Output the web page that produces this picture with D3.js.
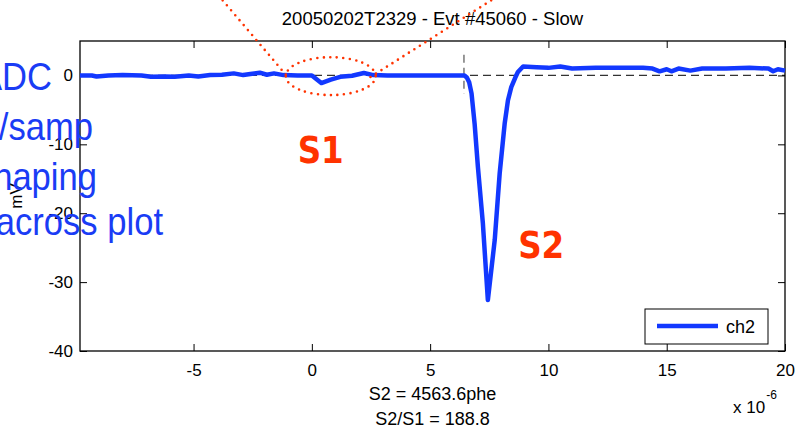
<!DOCTYPE html>
<html>
<head>
<meta charset="utf-8">
<script src="https://cdn.jsdelivr.net/npm/d3@7"></script>
<style>
  body { margin: 0; background: #fff; }
  svg { display: block; font-family: 'Liberation Sans', Arial, sans-serif; }
</style>
</head>
<body>
<svg id="chart" width="796" height="429"></svg>
<script>
// time in units of 1e-6 s, amplitude in mV
const timeUs = [
  -9.8, -9.3, -9.1, -8.6, -8.0, -7.2, -6.8, -6.2, -5.8, -5.2, -4.8, -4.3, -3.8, -3.3,
  -2.9, -2.6, -2.2, -1.9, -1.6, -1.2, -0.6, 0.0, 0.4, 0.8, 1.2, 1.7, 2.2, 2.6, 3.2,
  4.0, 5.0, 6.0, 6.45, 6.55, 6.65, 6.75, 6.88, 7.02, 7.23, 7.44, 7.73, 7.94, 8.15, 8.29,
  8.43, 8.6, 8.71, 8.93, 9.5, 10.0, 10.5, 11.0, 12.0, 13.0, 14.0, 14.4, 14.7, 15.0, 15.2,
  15.5, 16.0, 16.5, 17.5, 18.5, 19.3, 19.5, 19.7, 20.0
]
const ch2mV = [
  0, 0, -0.15, 0, 0.05, 0, -0.2, -0.15, -0.2, 0, -0.15, 0.05, 0.1, 0.3,
  0.05, 0.2, 0.4, 0.1, 0.3, 0.05, 0, 0, -1.1, -0.6, -0.2, -0.05, 0.35, 0.05, 0,
  0, 0, 0, 0, -0.3, -1.0, -2.6, -7.0, -13.3, -21.5, -32.6, -23.9, -14.2, -7.0, -3.6,
  -1.7, -0.3, 0.5, 1.3, 1.2, 1.1, 1.3, 1.0, 1.1, 1.1, 1.1, 1.0, 0.6, 0.9, 0.6,
  1.0, 0.7, 1.0, 1.0, 1.1, 1.0, 0.6, 0.9, 0.7
]
const xTicks = [-5, 0, 5, 10, 15, 20]
const yTicks = [0, -10, -20, -30, -40]
const titleText = '20050202T2329 - Evt #45060 - Slow'
const bottomLines = ['S2 = 4563.6phe', 'S2/S1 = 188.8']
const seriesName = 'ch2'
const triggerTime = 6.43
const triggerSpan = [3, -2.7]
const overlayLines = ['ADC', '/samp', 'haping', 'across plot']
// hand-drawn red marks around S1, in data units
const s1Ring = { cx: 0.8, cy: -0.1, rx: 1.9, ry: 2.75 }
const s1Pointers = [
  [[-3.77, 10.9], [-0.95, -0.5]],
  [[7.58, 10.9], [2.45, -0.3]]
]
const peakLabels = [
  { text: 'S1', t: -0.6, v: -12.7 },
  { text: 'S2', t: 8.72, v: -26.5 }
]

const svg = d3.select('#chart')
const margin = { top: 41, right: 11, bottom: 78, left: 80 }
const width = 796
const height = 429
const x = d3.scaleLinear().domain([-9.8, 20]).range([margin.left, width - margin.right])
const y = d3.scaleLinear().domain([-40, 5]).range([height - margin.bottom, margin.top])
const blue = '#1238ff'
const red = '#ff3300'
const fmt = d => String(d)

svg.append('rect').attr('width', width).attr('height', height).attr('fill', '#fff')

// zero baseline and trigger marker
svg.append('line')
  .attr('x1', x.range()[0]).attr('x2', x.range()[1])
  .attr('y1', y(0)).attr('y2', y(0))
  .attr('stroke', '#333').attr('stroke-width', 1.2).attr('stroke-dasharray', '8,5')
svg.append('line')
  .attr('x1', x(triggerTime)).attr('x2', x(triggerTime))
  .attr('y1', y(triggerSpan[0])).attr('y2', y(triggerSpan[1]))
  .attr('stroke', '#555').attr('stroke-width', 1.2).attr('stroke-dasharray', '8,5')

// axes
const axisFont = g => g.selectAll('text').attr('font-size', 17).attr('fill', '#000')
  .attr('font-family', "'Liberation Sans', Arial, sans-serif")
svg.append('g').attr('transform', `translate(0,${y.range()[0]})`)
  .call(d3.axisBottom(x).tickValues(xTicks).tickFormat(fmt).tickSizeInner(-7).tickSizeOuter(0).tickPadding(13))
  .call(g => g.select('.domain').remove())
  .call(axisFont)
svg.append('g').attr('transform', `translate(0,${y.range()[1]})`)
  .call(d3.axisTop(x).tickValues(xTicks).tickFormat('').tickSizeInner(-7).tickSizeOuter(0))
  .call(g => g.select('.domain').remove())
svg.append('g').attr('transform', `translate(${x.range()[0]},0)`)
  .call(d3.axisLeft(y).tickValues(yTicks).tickFormat(fmt).tickSizeInner(-7).tickSizeOuter(0).tickPadding(7))
  .call(g => g.select('.domain').remove())
  .call(axisFont)
svg.append('g').attr('transform', `translate(${x.range()[1]},0)`)
  .call(d3.axisRight(y).tickValues(yTicks).tickFormat('').tickSizeInner(-7).tickSizeOuter(0))
  .call(g => g.select('.domain').remove())
svg.selectAll('.tick line').attr('stroke', '#000')

svg.append('rect')
  .attr('x', x.range()[0]).attr('y', y.range()[1])
  .attr('width', x.range()[1] - x.range()[0]).attr('height', y.range()[0] - y.range()[1])
  .attr('fill', 'none').attr('stroke', '#000').attr('stroke-width', 1.3)

// trace
const trace = timeUs.map((t, i) => [t, ch2mV[i]])
svg.append('path')
  .datum(trace)
  .attr('fill', 'none')
  .attr('stroke', blue)
  .attr('stroke-width', 4.5)
  .attr('stroke-linejoin', 'round')
  .attr('d', d3.line().x(d => x(d[0])).y(d => y(d[1])))

// titles
svg.append('text').attr('x', (x.range()[0] + x.range()[1]) / 2).attr('y', 25)
  .attr('text-anchor', 'middle').attr('font-size', 18.5).text(titleText)
svg.selectAll('.bottom-line').data(bottomLines).join('text')
  .attr('class', 'bottom-line')
  .attr('x', (x.range()[0] + x.range()[1]) / 2)
  .attr('y', (d, i) => 400 + i * 25)
  .attr('text-anchor', 'middle').attr('font-size', 18).text(d => d)
const expo = svg.append('text').attr('x', 733).attr('y', 413).attr('font-size', 17)
expo.append('tspan').text('x 10')
expo.append('tspan').attr('dy', -14).attr('dx', 1).attr('font-size', 12).text('-6')
svg.append('text')
  .attr('transform', `translate(22,${(y.range()[0] + y.range()[1]) / 2}) rotate(-90)`)
  .attr('text-anchor', 'middle').attr('font-size', 17).text('mV')

// legend
const legend = svg.append('g').attr('transform', 'translate(645,309)')
legend.append('rect').attr('width', 123).attr('height', 35)
  .attr('fill', '#fff').attr('stroke', '#000').attr('stroke-width', 1)
legend.append('line').attr('x1', 12).attr('x2', 73).attr('y1', 17).attr('y2', 17)
  .attr('stroke', blue).attr('stroke-width', 4.5)
legend.append('text').attr('x', 81).attr('y', 24).attr('font-size', 18).text(seriesName)

// peak labels (narrow bold face)
svg.selectAll('.peak').data(peakLabels).join('text')
  .attr('class', 'peak')
  .attr('transform', d => `translate(${x(d.t)},${y(d.v)}) scale(0.88,1)`)
  .attr('font-family', "'DejaVu Sans', Verdana, sans-serif")
  .attr('font-weight', 'bold').attr('font-size', 37)
  .attr('fill', red).text(d => d.text)

// red dotted annotation
const dotted = sel => sel.attr('fill', 'none').attr('stroke', red).attr('stroke-width', 2.6)
  .attr('stroke-linecap', 'round').attr('stroke-dasharray', '0,6.5')
svg.append('ellipse')
  .attr('cx', x(s1Ring.cx)).attr('cy', y(s1Ring.cy))
  .attr('rx', x(s1Ring.cx + s1Ring.rx) - x(s1Ring.cx))
  .attr('ry', y(s1Ring.cy - s1Ring.ry) - y(s1Ring.cy))
  .call(dotted)
s1Pointers.forEach(p => {
  svg.append('line')
    .attr('x1', x(p[0][0])).attr('y1', y(p[0][1]))
    .attr('x2', x(p[1][0])).attr('y2', y(p[1][1]))
    .call(dotted)
})

// slide text pasted over the plot, cut off at the left edge
const overlayEnd = [52, 93, 97, 163]
const overlayBase = [90, 140, 190, 235]
svg.selectAll('.overlay').data(overlayLines).join('text')
  .attr('class', 'overlay')
  .attr('transform', (d, i) => `translate(${overlayEnd[i]},${overlayBase[i]}) scale(0.91,1)`)
  .attr('text-anchor', 'end')
  .attr('font-size', 38)
  .attr('fill', '#1a3cf5')
  .text(d => d)
</script>
</body>
</html>
